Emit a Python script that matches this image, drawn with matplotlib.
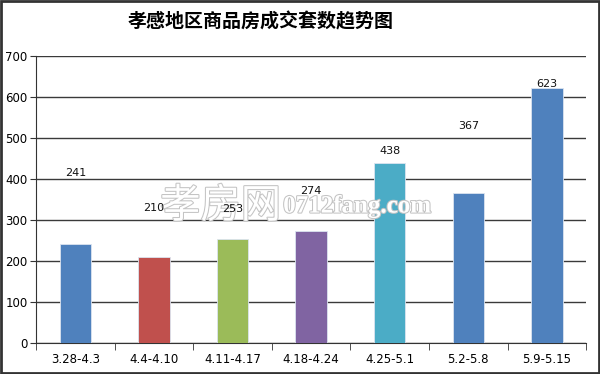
import matplotlib
matplotlib.use("Agg")
import matplotlib.pyplot as plt
import matplotlib.patheffects as pe
from matplotlib.patches import Rectangle

plt.rcParams['font.family'] = ['Noto Sans CJK SC', 'DejaVu Sans']

title = "孝感地区商品房成交套数趋势图"
weeks = ["3.28-4.3", "4.4-4.10", "4.11-4.17", "4.18-4.24", "4.25-5.1", "5.2-5.8", "5.9-5.15"]
deals = [241, 210, 253, 274, 438, 367, 623]
# where the value labels sit in the source picture (they float above the bars)
label_y = [415, 329, 327, 371, 468, 530, 631]
bar_colors = ["#4F81BD", "#C0504D", "#9BBB59", "#8064A2", "#4BACC6", "#4F81BD", "#4F81BD"]

fig = plt.figure(figsize=(6, 3.74), dpi=100)
ax = fig.add_axes([0.06, 0.083, 0.917, 0.767])

x = list(range(len(weeks)))
ax.bar(x, deals, width=0.4, color=bar_colors, edgecolor="#dbe4f0", linewidth=0.6, zorder=3)

for i in x:
    ax.text(i, label_y[i], str(deals[i]), ha="center", va="center", fontsize=8,
            family="DejaVu Sans", color="#111111", zorder=6)

ax.set_xlim(-0.5, len(weeks) - 0.5)
ax.set_ylim(0, 700)
ax.set_yticks(range(0, 701, 100))
ax.yaxis.grid(True, color="#3a3a3a", linewidth=1.0, zorder=0)
ax.set_axisbelow(True)

ax.set_xticks(x)
ax.set_xticklabels(weeks, fontsize=8.5, family="DejaVu Sans")
ax.set_xticks([i - 0.5 for i in range(len(weeks) + 1)], minor=True)
ax.tick_params(axis="x", which="major", length=0, pad=7)
ax.tick_params(axis="x", which="minor", length=5, direction="out", color="#333333")
ax.tick_params(axis="y", length=4, direction="out", color="#333333", labelsize=8.5, pad=2)
for lab in ax.get_yticklabels():
    lab.set_family("DejaVu Sans")

for s in ["top", "right"]:
    ax.spines[s].set_visible(False)
ax.spines["left"].set_color("#333333")
ax.spines["bottom"].set_color("#333333")

# the title sits a little left of centre in the original
fig.text(0.435, 0.941, title, ha="center", va="center", fontsize=13.7, fontweight="bold")

# watermark: above the bars, below the value labels
wm = [pe.withStroke(linewidth=1.5, foreground="#c4c4c4")]
ax.text(0.267, 0.449, "孝房网", transform=fig.transFigure, ha="left", va="center",
        fontsize=29, color="white", zorder=5, path_effects=wm)
ax.text(0.472, 0.449, "0712fang.com", transform=fig.transFigure, ha="left", va="center",
        fontsize=18, family="Liberation Serif", fontweight="bold", color="white",
        zorder=5, path_effects=wm)

fig.patches.append(Rectangle((0.002, 0.003), 0.996, 0.994, transform=fig.transFigure,
                             fill=False, edgecolor="#333333", linewidth=2))

plt.savefig("out.png", dpi=100)
